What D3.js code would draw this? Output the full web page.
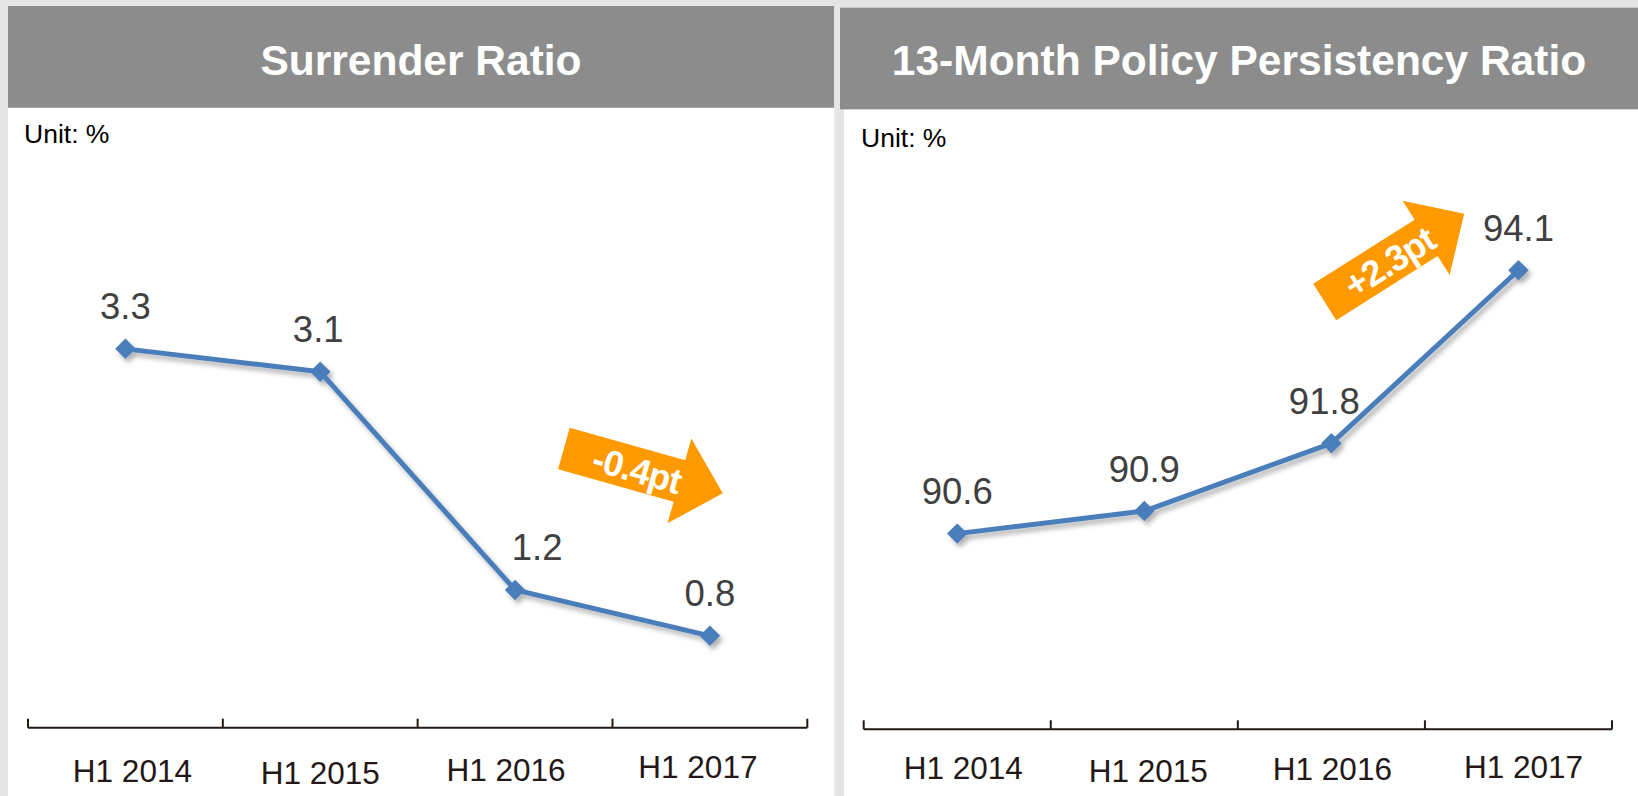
<!DOCTYPE html>
<html>
<head>
<meta charset="utf-8">
<script src="https://cdn.jsdelivr.net/npm/d3@7"></script>
<style>
  html, body { margin: 0; padding: 0; background: #e4e4e4; }
  svg { display: block; }
  text { font-family: "Liberation Sans", Arial, Helvetica, sans-serif; }
</style>
</head>
<body>
<svg id="chart" width="1638" height="796"></svg>
<script>
// ---- data ----
const categories = ["H1 2014", "H1 2015", "H1 2016", "H1 2017"];
const surrenderValues = [3.3, 3.1, 1.2, 0.8];
const persistencyValues = [90.6, 90.9, 91.8, 94.1];
const panelTitles = ["Surrender Ratio", "13-Month Policy Persistency Ratio"];
const unitLabel = "Unit: %";
const changeLabels = ["-0.4pt", "+2.3pt"];

// ---- layout ----
const svg = d3.select("#chart");

const defs = svg.append("defs");
const f = defs.append("filter").attr("id", "shadow")
  .attr("x", "-20%").attr("y", "-20%").attr("width", "140%").attr("height", "140%");
f.append("feDropShadow").attr("dx", 3).attr("dy", 4).attr("stdDeviation", 2.5)
  .attr("flood-color", "#000").attr("flood-opacity", 0.3);

const panels = [
  {
    title: panelTitles[0], values: surrenderValues,
    header: {x: 8, y: 6, w: 826, h: 101.7},
    body: {x: 8, y: 107.7, w: 826.3, h: 690},
    unit: {x: 24, y: 143},
    xRange: [28, 807.3], axisY: 727.7,
    yDomain: [0, 4], yPerUnit: 114.8,
    labelDx: [0, -2, 22, 0],
    tickDx: [7, 0, -9, -12], tickY: [781.7, 784, 780.5, 778],
    arrow: {x: 563.9, y: 448.5, angle: 15.7, label: changeLabels[0]}
  },
  {
    title: panelTitles[1], values: persistencyValues,
    header: {x: 840, y: 7.7, w: 798, h: 101.6},
    body: {x: 844, y: 109.3, w: 794, h: 690},
    unit: {x: 861, y: 147},
    xRange: [863.7, 1612], axisY: 729.3,
    yDomain: [88, 96], yPerUnit: 75.26,
    labelDx: [0, 0, -7, 0],
    tickDx: [6, 4, 1, 5], tickY: [779, 781.7, 780, 777.6],
    arrow: {x: 1324.7, y: 302, angle: -32.3, label: changeLabels[1]}
  }
];

const lineColor = "#4a7ebb";

panels.forEach(p => {
  const g = svg.append("g");
  g.append("rect").attr("x", p.body.x).attr("y", p.body.y)
    .attr("width", p.body.w).attr("height", p.body.h).attr("fill", "#ffffff");
  g.append("rect").attr("x", p.header.x).attr("y", p.header.y)
    .attr("width", p.header.w).attr("height", p.header.h).attr("fill", "#8c8c8c");
  g.append("text").attr("x", p.header.x + p.header.w / 2).attr("y", 75)
    .attr("text-anchor", "middle").attr("fill", "#ffffff")
    .attr("font-weight", "bold").attr("font-size", 42.5)
    .text(p.title);
  g.append("text").attr("x", p.unit.x).attr("y", p.unit.y)
    .attr("fill", "#000").attr("font-size", 26.5).text(unitLabel);

  const x = d3.scaleBand().domain(categories).range(p.xRange).padding(0);
  const y = d3.scaleLinear().domain(p.yDomain)
    .range([p.axisY, p.axisY - (p.yDomain[1] - p.yDomain[0]) * p.yPerUnit]);
  const cx = c => x(c) + x.bandwidth() / 2;

  const axisG = g.append("g").attr("transform", `translate(0,${p.axisY})`);
  const xAxis = d3.axisBottom(x).tickSize(0).tickSizeOuter(0).tickFormat("");
  axisG.call(xAxis);
  axisG.select(".domain").attr("stroke", "#231815").attr("stroke-width", 2)
    .attr("d", `M${p.xRange[0]},0H${p.xRange[1]}`);
  const bounds = categories.map(c => x(c)).concat([x(categories[categories.length - 1]) + x.bandwidth()]);
  axisG.selectAll("line.bound").data(bounds).enter().append("line")
    .attr("class", "bound")
    .attr("x1", d => d).attr("x2", d => d).attr("y1", 0).attr("y2", -9)
    .attr("stroke", "#231815").attr("stroke-width", 2);
  g.selectAll("text.cat").data(categories).enter().append("text")
    .attr("class", "cat")
    .attr("x", (c, i) => cx(c) + p.tickDx[i])
    .attr("y", (c, i) => p.tickY[i])
    .attr("text-anchor", "middle").attr("fill", "#231815")
    .attr("font-size", 31.5).text(c => c);

  const pts = categories.map((c, i) => ({c, v: p.values[i], i}));

  const lg = g.append("g").attr("filter", "url(#shadow)");
  lg.append("path").datum(pts)
    .attr("d", d3.line().x(d => cx(d.c)).y(d => y(d.v)))
    .attr("fill", "none").attr("stroke", lineColor).attr("stroke-width", 5)
    .attr("stroke-linejoin", "round");
  lg.selectAll("path.mk").data(pts).enter().append("path")
    .attr("class", "mk")
    .attr("d", d3.symbol(d3.symbolSquare, 210)())
    .attr("transform", d => `translate(${cx(d.c)},${y(d.v)}) rotate(45)`)
    .attr("fill", lineColor);

  g.selectAll("text.val").data(pts).enter().append("text")
    .attr("class", "val")
    .attr("x", d => cx(d.c) + p.labelDx[d.i])
    .attr("y", d => y(d.v) - 29.5)
    .attr("text-anchor", "middle").attr("fill", "#404040")
    .attr("font-size", 36.5).text(d => d.v.toFixed(1));

  const a = p.arrow;
  const ag = g.append("g").attr("transform", `translate(${a.x},${a.y}) rotate(${a.angle})`);
  const sh = 21.5, hh = 44, hb = 120, tip = 165;
  ag.append("path")
    .attr("d", `M0,${-sh}L${hb},${-sh}L${hb},${-hh}L${tip},0L${hb},${hh}L${hb},${sh}L0,${sh}Z`)
    .attr("fill", "#ff9900");
  ag.append("text").attr("x", 76).attr("y", 4)
    .attr("text-anchor", "middle").attr("dominant-baseline", "middle")
    .attr("fill", "#ffffff").attr("font-weight", "bold").attr("font-size", 36)
    .attr("letter-spacing", -1)
    .text(a.label);
});
</script>
</body>
</html>
